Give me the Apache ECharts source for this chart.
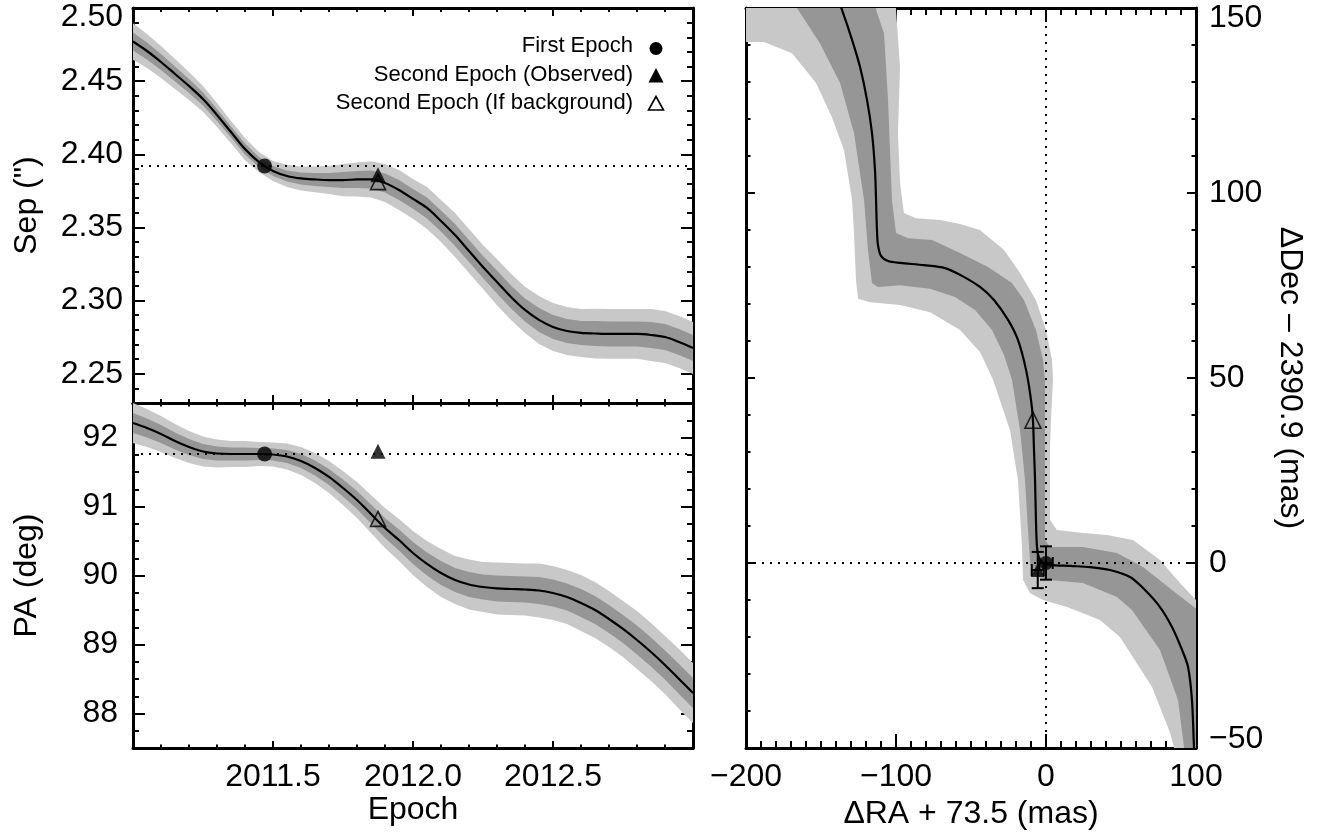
<!DOCTYPE html>
<html>
<head>
<meta charset="utf-8">
<title>Background track test</title>
<script src="https://cdn.jsdelivr.net/npm/echarts@6.0.0/dist/echarts.min.js"></script>
<style>
  html, body { margin: 0; padding: 0; background: #ffffff; }
  #chart { width: 1324px; height: 835px; }
</style>
</head>
<body>
<div id="chart"></div>
<script>
// ---- Background-star track in separation / position angle (vs. epoch) ----
const epochs = [
  2011.00, 2011.05, 2011.10, 2011.15, 2011.20, 2011.25, 2011.30, 2011.35, 2011.40, 2011.45,
  2011.50, 2011.55, 2011.60, 2011.65, 2011.70, 2011.75, 2011.80, 2011.85, 2011.90, 2011.95,
  2012.00, 2012.05, 2012.10, 2012.15, 2012.20, 2012.25, 2012.30, 2012.35, 2012.40, 2012.45,
  2012.50, 2012.55, 2012.60, 2012.65, 2012.70, 2012.75, 2012.80, 2012.85, 2012.90, 2012.95,
  2013.00
];
const sepTrack = [
  2.4771, 2.4706, 2.4631, 2.4549, 2.4467, 2.4378, 2.4269, 2.4152, 2.4036, 2.3947,
  2.3886, 2.3852, 2.3835, 2.3828, 2.3824, 2.3824, 2.3828, 2.3828, 2.3804, 2.3756,
  2.3695, 2.3633, 2.3544, 2.3448, 2.3339, 2.3230, 2.3127, 2.3025, 2.2936, 2.2868,
  2.2820, 2.2792, 2.2779, 2.2775, 2.2772, 2.2772, 2.2772, 2.2765, 2.2751, 2.2717,
  2.2676
];
// one-sigma half width of the separation track (arcsec)
const sepSigma = [
  0.0062, 0.0058, 0.0055, 0.0051, 0.0048, 0.0044, 0.0041, 0.0038, 0.0038, 0.0034,
  0.0034, 0.0038, 0.0041, 0.0044, 0.0048, 0.0055, 0.0058, 0.0062, 0.0065, 0.0068,
  0.0068, 0.0072, 0.0072, 0.0075, 0.0075, 0.0075, 0.0079, 0.0079, 0.0079, 0.0082,
  0.0082, 0.0082, 0.0082, 0.0085, 0.0085, 0.0085, 0.0085, 0.0089, 0.0089, 0.0089,
  0.0089
];
const paTrack = [
  92.210, 92.138, 92.051, 91.949, 91.862, 91.797, 91.768, 91.761, 91.761, 91.761,
  91.754, 91.725, 91.659, 91.558, 91.428, 91.268, 91.094, 90.891, 90.688, 90.514,
  90.326, 90.167, 90.036, 89.935, 89.870, 89.833, 89.812, 89.804, 89.797, 89.783,
  89.746, 89.688, 89.601, 89.500, 89.370, 89.225, 89.065, 88.891, 88.703, 88.500,
  88.297
];
// one-sigma half width of the position-angle track (deg)
const paSigma = [
  0.145, 0.138, 0.130, 0.123, 0.116, 0.109, 0.101, 0.094, 0.094, 0.087,
  0.087, 0.094, 0.101, 0.109, 0.116, 0.123, 0.130, 0.138, 0.145, 0.152,
  0.159, 0.167, 0.174, 0.174, 0.181, 0.181, 0.188, 0.188, 0.188, 0.196,
  0.196, 0.196, 0.203, 0.203, 0.203, 0.203, 0.210, 0.210, 0.210, 0.217,
  0.217
];

// ---- Measurements ----
const firstEpoch = 2011.47;
const secondEpoch = 2011.875;
const sepFirst = 2.392, sepSecondObs = 2.386, sepSecondBg = 2.381;
const paFirst = 91.76, paSecondObs = 91.80, paSecondBg = 90.82;

// ---- Sky-plane track (mas) ----
const skyTrack = [
  [-138.7, 152.2], [-136.0, 149.5], [-129.3, 141.4], [-124.0, 134.1], [-119.3, 125.1],
  [-116.0, 116.2], [-114.0, 106.2], [-113.3, 98.1], [-112.7, 90.0], [-112.0, 85.9],
  [-110.0, 83.0], [-105.3, 81.6], [-97.3, 81.1], [-81.3, 80.5], [-67.3, 79.7],
  [-56.0, 77.6], [-44.0, 74.6], [-34.7, 71.1], [-25.3, 65.7], [-18.7, 60.3],
  [-13.3, 52.2], [-10.0, 44.1], [-8.7, 38.6], [-8.0, 30.5], [-7.3, 22.4],
  [-6.7, 11.6], [-6.0, 4.3], [-4.7, 1.4], [-2.0, 0.0], [2.7, -0.5],
  [16.0, -0.8], [29.3, -1.1], [42.7, -1.9], [56.0, -3.8], [66.0, -7.3],
  [76.0, -11.9], [84.0, -17.3], [90.7, -23.5], [94.7, -28.1], [97.3, -37.0],
  [98.7, -50.0], [99.2, -53.0]
];
// two-sigma envelope of the sky track
const skyBand2 = [
  [-100.0, 152.2], [-100.0, 149.5], [-97.3, 134.1], [-98.7, 116.2], [-97.3, 102.7],
  [-94.7, 94.6], [-86.7, 93.2], [-70.7, 92.7], [-57.3, 91.6], [-44.0, 90.0],
  [-28.0, 84.6], [-17.3, 78.4], [-6.7, 71.1], [0.0, 63.0], [4.0, 54.9],
  [4.7, 49.5], [3.3, 38.6], [2.7, 31.4], [2.7, 11.6], [7.3, 8.9],
  [24.7, 8.1], [40.7, 7.6], [58.0, 6.2], [76.0, 0.8], [89.3, -5.4],
  [100.0, -10.0], [106.0, -14.1], [112.7, -53.2], [84.0, -53.2], [85.3, -49.7],
  [82.7, -45.9], [70.7, -33.5], [49.3, -20.0], [36.0, -15.4], [14.0, -11.9],
  [-2.0, -10.0], [-10.7, -8.1], [-15.3, -4.6], [-16.0, 4.3], [-18.7, 22.4],
  [-24.0, 35.9], [-35.3, 49.5], [-44.0, 57.0], [-57.3, 63.0], [-77.3, 67.8],
  [-97.3, 69.7], [-117.3, 70.5], [-125.3, 71.4], [-126.7, 76.5], [-128.0, 89.2],
  [-129.3, 98.1], [-134.7, 111.6], [-142.7, 120.5], [-153.3, 129.7], [-169.3, 137.8],
  [-188.0, 140.8], [-198.7, 140.8], [-210.7, 140.8], [-210.7, 152.2]
];
// one-sigma envelope of the sky track
const skyBand1 = [
  [-113.3, 152.2], [-113.3, 149.5], [-108.0, 143.2], [-105.3, 125.1], [-102.7, 98.1],
  [-100.0, 89.2], [-92.0, 87.8], [-76.0, 87.3], [-57.3, 83.8], [-38.7, 80.0],
  [-22.7, 75.7], [-14.7, 71.1], [-6.7, 63.0], [-2.0, 54.9], [-0.7, 49.5],
  [-0.7, 31.4], [-0.7, 6.2], [2.7, 4.3], [24.7, 4.3], [47.3, 2.7],
  [64.7, -1.1], [84.0, -7.3], [101.3, -12.7], [109.3, -16.8], [109.3, -53.2],
  [91.3, -53.2], [92.0, -49.7], [88.0, -37.0], [76.0, -23.5], [57.3, -12.7],
  [47.3, -9.2], [36.0, -7.3], [24.7, -5.4], [2.7, -4.6], [-9.3, -3.2],
  [-10.7, 0.8], [-12.0, 8.9], [-14.0, 22.4], [-17.3, 35.9], [-22.7, 49.5],
  [-28.0, 56.2], [-36.0, 63.0], [-47.3, 68.4], [-60.7, 71.9], [-77.3, 74.1],
  [-97.3, 75.1], [-112.0, 74.6], [-116.0, 75.7], [-118.7, 84.6], [-121.3, 98.1],
  [-128.0, 116.2], [-137.3, 129.7], [-150.7, 140.5], [-165.3, 149.5], [-169.3, 152.2]
];
// [dRA, dDec, errRA, errDec]
const skyFirst = [0.0, 0.0, 4.5, 4.5];
const skySecondObs = [-5.5, -1.9, 4.0, 4.9];
const skySecondBg = [-8.7, 38.6];

// ---- Tick labels ----
const epochLabels = [2011.5, 2012.0, 2012.5];
const sepLabels = [2.25, 2.30, 2.35, 2.40, 2.45, 2.50];
const paLabels = [88, 89, 90, 91, 92];
const raLabels = [-200, -100, 0, 100];
const decLabels = [-50, 0, 50, 100, 150];

// ---- Styling ----
const FONT = "'Liberation Sans', Arial, Helvetica, sans-serif";
const INK = '#000000';
const SIGMA2 = '#c8c8c8';
const SIGMA1 = '#969696';
const TICK = { color: INK, width: 2 };
const FRAME = { show: true, onZero: false, lineStyle: { color: INK, width: 3 } };
const NOLINE = { show: false, onZero: false };
const LABEL_FONT = { fontFamily: FONT, fontSize: 32, color: INK };
const NAME_FONT = { fontFamily: FONT, fontSize: 32, color: INK };
const minusSign = v => (v < 0 ? '\u2212' + Math.abs(v) : String(v));

function epochAxis(grid, pos, major, minor, withLabels) {
  const ax = {
    type: 'value', gridIndex: grid, position: pos, min: 2011, max: 2013, interval: 0.5,
    axisLine: FRAME,
    axisTick: { show: true, inside: true, length: major, lineStyle: TICK },
    minorTick: { show: true, splitNumber: 5, length: minor, lineStyle: TICK },
    splitLine: { show: false }, minorSplitLine: { show: false },
    axisLabel: { show: false }
  };
  if (withLabels) {
    ax.axisLabel = Object.assign({
      show: true, customValues: epochLabels, margin: 13,
      formatter: v => v.toFixed(1)
    }, LABEL_FONT);
    Object.assign(ax, { name: 'Epoch', nameLocation: 'middle', nameGap: 46, nameTextStyle: NAME_FONT });
  }
  return ax;
}
function raAxis(pos, withLabels) {
  const ax = {
    type: 'value', gridIndex: 2, position: pos, min: -200, max: 100, interval: 100,
    axisLine: FRAME,
    axisTick: { show: true, inside: true, length: 14, lineStyle: TICK },
    minorTick: { show: true, splitNumber: 10, length: 7, lineStyle: TICK },
    splitLine: { show: false }, minorSplitLine: { show: false },
    axisLabel: { show: false }
  };
  if (withLabels) {
    ax.axisLabel = Object.assign({ show: true, customValues: raLabels, margin: 13, formatter: minusSign }, LABEL_FONT);
    Object.assign(ax, { name: '\u0394RA + 73.5 (mas)', nameLocation: 'middle', nameGap: 46, nameTextStyle: NAME_FONT });
  }
  return ax;
}
// major-tick axis with explicit tick positions
function majorAxis(grid, pos, min, max, ticks, len, line) {
  return {
    type: 'value', gridIndex: grid, position: pos, min: min, max: max,
    axisLine: line ? FRAME : NOLINE,
    axisTick: { show: true, inside: true, length: len, customValues: ticks, lineStyle: TICK },
    splitLine: { show: false },
    axisLabel: { show: false }
  };
}
// evenly spaced minor ticks
function minorAxis(grid, pos, min, max, step, len) {
  return {
    type: 'value', gridIndex: grid, position: pos, min: min, max: max, interval: step,
    axisLine: NOLINE,
    axisTick: { show: true, inside: true, length: len, lineStyle: TICK },
    splitLine: { show: false },
    axisLabel: { show: false }
  };
}

const sepMin = 2.23, sepMax = 2.50;
const paMin = 87.5, paMax = 92.5;
const decMin = -50, decMax = 150;

const sepMajorLeft = majorAxis(0, 'left', sepMin, sepMax, sepLabels, 12, true);
sepMajorLeft.axisLabel = Object.assign({
  show: true, customValues: sepLabels, margin: 10,
  formatter: v => {
    const s = v.toFixed(2);
    return Math.abs(v - sepMax) < 1e-9 ? '{hi|' + s + '}' : s;
  },
  rich: { hi: Object.assign({ padding: [18, 0, 0, 0] }, LABEL_FONT) }
}, LABEL_FONT);
Object.assign(sepMajorLeft, { name: 'Sep (")', nameLocation: 'middle', nameRotate: 90, nameGap: 90, nameTextStyle: NAME_FONT });

const paMajorLeft = majorAxis(1, 'left', paMin, paMax, paLabels, 12, true);
paMajorLeft.axisLabel = Object.assign({
  show: true, customValues: paLabels, margin: 15, formatter: v => String(v)
}, LABEL_FONT);
Object.assign(paMajorLeft, { name: 'PA (deg)', nameLocation: 'middle', nameRotate: 90, nameGap: 90, nameTextStyle: NAME_FONT });

const decRight = {
  type: 'value', gridIndex: 2, position: 'right', min: decMin, max: decMax, interval: 50,
  axisLine: FRAME,
  axisTick: { show: true, inside: true, length: 9, lineStyle: TICK },
  minorTick: { show: true, splitNumber: 5, length: 4.5, lineStyle: TICK },
  splitLine: { show: false }, minorSplitLine: { show: false },
  axisLabel: Object.assign({
    show: true, customValues: decLabels, margin: 13,
    formatter: v => {
      const s = minusSign(v);
      if (v === decMax) return '{hi|' + s + '}';
      if (v === decMin) return '{lo|' + s + '}';
      return s;
    },
    rich: {
      hi: Object.assign({ padding: [20, 0, 0, 0] }, LABEL_FONT),
      lo: Object.assign({ padding: [0, 0, 18, 0] }, LABEL_FONT)
    }
  }, LABEL_FONT),
  name: '\u0394Dec \u2013 2390.9 (mas)', nameLocation: 'middle', nameRotate: -90, nameGap: 78,
  nameTextStyle: NAME_FONT
};
const decLeft = {
  type: 'value', gridIndex: 2, position: 'left', min: decMin, max: decMax, interval: 50,
  axisLine: FRAME,
  axisTick: { show: true, inside: true, length: 9, lineStyle: TICK },
  minorTick: { show: true, splitNumber: 5, length: 4.5, lineStyle: TICK },
  splitLine: { show: false }, minorSplitLine: { show: false },
  axisLabel: { show: false }
};

// ---- Series helpers ----
function polygonSeries(xi, yi, pts, color, z) {
  return {
    type: 'custom', xAxisIndex: xi, yAxisIndex: yi, z: z, silent: true, clip: true,
    data: [pts[0]],
    renderItem: (params, api) => ({
      type: 'polygon',
      shape: { points: pts.map(p => api.coord(p)) },
      style: { fill: color, stroke: null }
    })
  };
}
function bandPoints(mid, sig, k) {
  const pts = [];
  for (let i = 0; i < epochs.length; i++) pts.push([epochs[i], mid[i] + k * sig[i]]);
  for (let i = epochs.length - 1; i >= 0; i--) pts.push([epochs[i], mid[i] - k * sig[i]]);
  return pts;
}
function trackLine(xi, yi, data, z) {
  return {
    type: 'line', xAxisIndex: xi, yAxisIndex: yi, z: z, data: data,
    showSymbol: false, symbol: 'none', smooth: 0.3, silent: true,
    lineStyle: { color: INK, width: 2.2 }
  };
}
function dottedLine(xi, yi, data) {
  return {
    type: 'line', xAxisIndex: xi, yAxisIndex: yi, z: 3, data: data,
    symbol: 'none', silent: true,
    lineStyle: { color: INK, width: 2, type: [2, 6] }
  };
}
function marker(xi, yi, point, shape, size, hollow) {
  return {
    type: 'scatter', xAxisIndex: xi, yAxisIndex: yi, z: 6, silent: true,
    symbol: shape, symbolSize: size, data: [point],
    itemStyle: hollow
      ? { color: 'rgba(0,0,0,0)', borderColor: INK, borderWidth: 1.6 }
      : { color: INK, borderWidth: 0 }
  };
}

const errorBars = {
  type: 'custom', xAxisIndex: 4, yAxisIndex: 8, z: 5, silent: true, clip: true,
  data: [skyFirst, skySecondObs],
  renderItem: (params, api) => {
    const ra = api.value(0), dec = api.value(1), er = api.value(2), ed = api.value(3);
    const top = api.coord([ra, dec + ed]), bot = api.coord([ra, dec - ed]);
    const lft = api.coord([ra - er, dec]), rgt = api.coord([ra + er, dec]);
    const cap = 6;
    const st = { stroke: INK, lineWidth: 2 };
    const seg = (x1, y1, x2, y2) => ({ type: 'line', shape: { x1, y1, x2, y2 }, style: st });
    return {
      type: 'group',
      children: [
        seg(top[0], top[1], bot[0], bot[1]),
        seg(top[0] - cap, top[1], top[0] + cap, top[1]),
        seg(bot[0] - cap, bot[1], bot[0] + cap, bot[1]),
        seg(lft[0], lft[1], rgt[0], rgt[1]),
        seg(lft[0], lft[1] - cap, lft[0], lft[1] + cap),
        seg(rgt[0], rgt[1] - cap, rgt[0], rgt[1] + cap)
      ]
    };
  }
};

const sepLine = epochs.map((t, i) => [t, sepTrack[i]]);
const paLine = epochs.map((t, i) => [t, paTrack[i]]);

const LEGEND_FONT = "22px 'Liberation Sans', Arial, Helvetica, sans-serif";
const legendText = (y, text) => ({
  type: 'text', x: 633, y: y, silent: true,
  style: { text: text, font: LEGEND_FONT, fill: INK, align: 'right', verticalAlign: 'middle',
           textAlign: 'right', textVerticalAlign: 'middle' }
});

const option = {
  animation: false,
  backgroundColor: '#ffffff',
  grid: [
    { left: 133, top: 8, width: 560, height: 395 },
    { left: 133, top: 403, width: 560, height: 345 },
    { left: 746, top: 8, width: 450, height: 740 }
  ],
  xAxis: [
    epochAxis(0, 'bottom', 8, 4, false),
    epochAxis(0, 'top', 8, 4, false),
    epochAxis(1, 'bottom', 7, 3.5, true),
    epochAxis(1, 'top', 7, 3.5, false),
    raAxis('bottom', true),
    raAxis('top', false)
  ],
  yAxis: [
    sepMajorLeft,
    minorAxis(0, 'left', sepMin, sepMax, 0.01, 6),
    majorAxis(0, 'right', sepMin, sepMax, sepLabels, 12, true),
    minorAxis(0, 'right', sepMin, sepMax, 0.01, 6),
    paMajorLeft,
    minorAxis(1, 'left', paMin, paMax, 0.25, 6),
    majorAxis(1, 'right', paMin, paMax, paLabels, 12, true),
    minorAxis(1, 'right', paMin, paMax, 0.25, 6),
    decRight,
    decLeft
  ],
  series: [
    // separation panel
    polygonSeries(0, 0, bandPoints(sepTrack, sepSigma, 2), SIGMA2, 1),
    polygonSeries(0, 0, bandPoints(sepTrack, sepSigma, 1), SIGMA1, 2),
    dottedLine(0, 0, [[2011, sepFirst], [2013, sepFirst]]),
    trackLine(0, 0, sepLine, 4),
    marker(0, 0, [firstEpoch, sepFirst], 'circle', 15, false),
    marker(0, 0, [secondEpoch, sepSecondObs], 'triangle', 15, false),
    marker(0, 0, [secondEpoch, sepSecondBg], 'triangle', 15, true),
    // position-angle panel
    polygonSeries(2, 4, bandPoints(paTrack, paSigma, 2), SIGMA2, 1),
    polygonSeries(2, 4, bandPoints(paTrack, paSigma, 1), SIGMA1, 2),
    dottedLine(2, 4, [[2011, paFirst], [2013, paFirst]]),
    trackLine(2, 4, paLine, 4),
    marker(2, 4, [firstEpoch, paFirst], 'circle', 15, false),
    marker(2, 4, [secondEpoch, paSecondObs], 'triangle', 15, false),
    marker(2, 4, [secondEpoch, paSecondBg], 'triangle', 15, true),
    // sky-plane panel
    polygonSeries(4, 8, skyBand2, SIGMA2, 1),
    polygonSeries(4, 8, skyBand1, SIGMA1, 2),
    dottedLine(4, 8, [[-200, skyFirst[1]], [100, skyFirst[1]]]),
    dottedLine(4, 8, [[skyFirst[0], decMin], [skyFirst[0], decMax]]),
    trackLine(4, 8, skyTrack, 4),
    errorBars,
    marker(4, 8, [skyFirst[0], skyFirst[1]], 'circle', 14, false),
    marker(4, 8, [skySecondObs[0], skySecondObs[1]], 'triangle', 14, false),
    marker(4, 8, skySecondBg, 'triangle', 16, true)
  ],
  graphic: [
    legendText(46, 'First Epoch'),
    legendText(74.5, 'Second Epoch (Observed)'),
    legendText(102.5, 'Second Epoch (If background)'),
    { type: 'circle', silent: true, shape: { cx: 656, cy: 48.5, r: 6.5 }, style: { fill: INK } },
    { type: 'polygon', silent: true, shape: { points: [[656, 68], [648.5, 82.5], [663.5, 82.5]] }, style: { fill: INK } },
    { type: 'polygon', silent: true, shape: { points: [[656, 96.5], [648.5, 110], [663.5, 110]] },
      style: { fill: 'none', stroke: INK, lineWidth: 1.6 } }
  ]
};

const chart = echarts.init(document.getElementById('chart'), null, { renderer: 'canvas' });
chart.setOption(option);
</script>
</body>
</html>
